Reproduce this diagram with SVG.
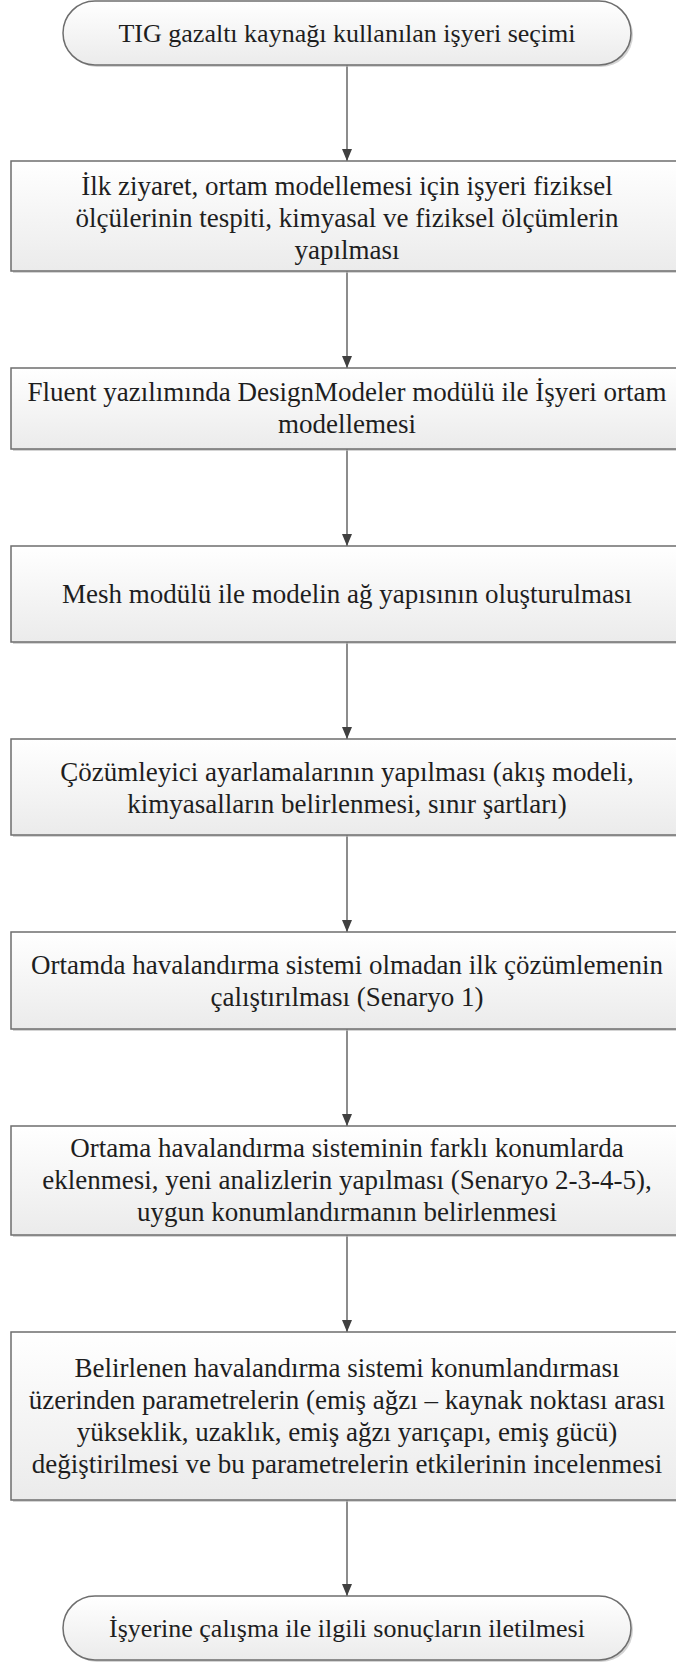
<svg xmlns="http://www.w3.org/2000/svg" width="676" height="1664" viewBox="0 0 676 1664">
<defs>
<linearGradient id="g" x1="0" y1="0" x2="0" y2="1">
<stop offset="0" stop-color="#ffffff"/>
<stop offset="1" stop-color="#ebebeb"/>
</linearGradient>
<marker id="ahd" viewBox="0 0 12 10" refX="12" refY="5" markerWidth="12" markerHeight="10" markerUnits="userSpaceOnUse" orient="auto">
<path d="M0,0 L12,5 L0,10 Z" fill="#404040"/>
</marker>
</defs>
<style>
.box{fill:url(#g);stroke:#6e6e6e;stroke-width:1.5}
.sh{fill:#b8b8b8;opacity:0.6}
.t{font-family:"Liberation Serif","Times New Roman",serif;font-size:27px;fill:#1e1e1e;text-anchor:middle}
.tt{font-family:"Liberation Serif","Times New Roman",serif;font-size:26px;fill:#1e1e1e;text-anchor:middle}
.c{stroke:#404040;stroke-width:1.2;fill:none;marker-end:url(#ahd)}
</style>
<rect width="676" height="1664" fill="#ffffff"/>
<g id="connectors">
<line class="c" x1="347" y1="65" x2="347" y2="161"/>
<line class="c" x1="347" y1="271" x2="347" y2="368"/>
<line class="c" x1="347" y1="449" x2="347" y2="546"/>
<line class="c" x1="347" y1="642" x2="347" y2="739"/>
<line class="c" x1="347" y1="835" x2="347" y2="932"/>
<line class="c" x1="347" y1="1029" x2="347" y2="1126"/>
<line class="c" x1="347" y1="1235" x2="347" y2="1332"/>
<line class="c" x1="347" y1="1500" x2="347" y2="1596"/>
</g>
<g id="n1">
<rect class="sh" x="65" y="3" width="568" height="64" rx="32"/>
<rect class="box" x="63" y="1" width="568" height="64" rx="32"/>
<text class="tt" x="347" y="42">TIG gazaltı kaynağı kullanılan işyeri seçimi</text>
</g>
<g id="n2">
<rect class="sh" x="13" y="163" width="680" height="110"/>
<rect class="box" x="11" y="161" width="680" height="110"/>
<text class="t" x="347" y="195">İlk ziyaret, ortam modellemesi için işyeri fiziksel</text>
<text class="t" x="347" y="227">ölçülerinin tespiti, kimyasal ve fiziksel ölçümlerin</text>
<text class="t" x="347" y="259">yapılması</text>
</g>
<g id="n3">
<rect class="sh" x="13" y="370" width="680" height="81"/>
<rect class="box" x="11" y="368" width="680" height="81"/>
<text class="t" x="347" y="401">Fluent yazılımında DesignModeler modülü ile İşyeri ortam</text>
<text class="t" x="347" y="433">modellemesi</text>
</g>
<g id="n4">
<rect class="sh" x="13" y="548" width="680" height="96"/>
<rect class="box" x="11" y="546" width="680" height="96"/>
<text class="t" x="347" y="603">Mesh modülü ile modelin ağ yapısının oluşturulması</text>
</g>
<g id="n5">
<rect class="sh" x="13" y="741" width="680" height="96"/>
<rect class="box" x="11" y="739" width="680" height="96"/>
<text class="t" x="347" y="781">Çözümleyici ayarlamalarının yapılması (akış modeli,</text>
<text class="t" x="347" y="813">kimyasalların belirlenmesi, sınır şartları)</text>
</g>
<g id="n6">
<rect class="sh" x="13" y="934" width="680" height="97"/>
<rect class="box" x="11" y="932" width="680" height="97"/>
<text class="t" x="347" y="974">Ortamda havalandırma sistemi olmadan ilk çözümlemenin</text>
<text class="t" x="347" y="1006">çalıştırılması (Senaryo 1)</text>
</g>
<g id="n7">
<rect class="sh" x="13" y="1128" width="680" height="109"/>
<rect class="box" x="11" y="1126" width="680" height="109"/>
<text class="t" x="347" y="1157">Ortama havalandırma sisteminin farklı konumlarda</text>
<text class="t" x="347" y="1189">eklenmesi, yeni analizlerin yapılması (Senaryo 2-3-4-5),</text>
<text class="t" x="347" y="1221">uygun konumlandırmanın belirlenmesi</text>
</g>
<g id="n8">
<rect class="sh" x="13" y="1334" width="680" height="168"/>
<rect class="box" x="11" y="1332" width="680" height="168"/>
<text class="t" x="347" y="1377">Belirlenen havalandırma sistemi konumlandırması</text>
<text class="t" x="347" y="1409">üzerinden parametrelerin  (emiş ağzı – kaynak noktası arası</text>
<text class="t" x="347" y="1441">yükseklik, uzaklık, emiş ağzı yarıçapı, emiş gücü)</text>
<text class="t" x="347" y="1473">değiştirilmesi ve bu parametrelerin etkilerinin incelenmesi</text>
</g>
<g id="n9">
<rect class="sh" x="65" y="1598" width="568" height="64" rx="32"/>
<rect class="box" x="63" y="1596" width="568" height="64" rx="32"/>
<text class="tt" x="347" y="1637">İşyerine çalışma ile ilgili sonuçların iletilmesi</text>
</g>
</svg>
